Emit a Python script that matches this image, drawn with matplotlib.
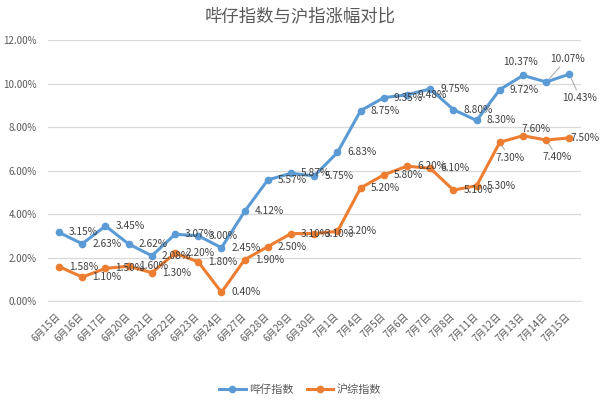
import matplotlib
import matplotlib.pyplot as plt
import matplotlib.ticker as mtick

matplotlib.use("Agg")
plt.rcParams["font.family"] = ["Noto Sans CJK SC", "DejaVu Sans"]

dates = ["6月15日", "6月16日", "6月17日", "6月20日", "6月21日", "6月22日", "6月23日",
         "6月24日", "6月27日", "6月28日", "6月29日", "6月30日", "7月1日", "7月4日",
         "7月5日", "7月6日", "7月7日", "7月8日", "7月11日", "7月12日", "7月13日",
         "7月14日", "7月15日"]
bizai = [3.15, 2.63, 3.45, 2.62, 2.08, 3.07, 3.00, 2.45, 4.12, 5.57, 5.87, 5.75,
         6.83, 8.75, 9.35, 9.48, 9.75, 8.80, 8.30, 9.72, 10.37, 10.07, 10.43]
huzong = [1.58, 1.10, 1.50, 1.60, 1.30, 2.20, 1.80, 0.40, 1.90, 2.50, 3.10, 3.10,
          3.20, 5.20, 5.80, 6.20, 6.10, 5.10, 5.30, 7.30, 7.60, 7.40, 7.50]

BLUE = "#5B9BD5"
ORANGE = "#ED7D31"
GRAY = "#595959"

# label offsets in points (dx, dy, leader line); anything not listed sits to the right
blue_moves = {20: (-1.5, 9.5, False), 21: (15, 16.5, True), 22: (7.5, -17, True)}
orange_moves = {19: (7, -11, True), 20: (9.5, 4.5, False), 21: (8, -12.5, True),
                22: (11.5, 0, False)}

fig = plt.figure(figsize=(6, 4.03), dpi=100)
ax = fig.add_axes([47.5 / 600, 1 - 301 / 403, 533.5 / 600, 261 / 403])

x = list(range(len(dates)))
ax.plot(x, bizai, color=BLUE, lw=2.2, marker="o", ms=4.5, label="哔仔指数", zorder=3)
ax.plot(x, huzong, color=ORANGE, lw=2.2, marker="o", ms=4.5, label="沪综指数", zorder=3)


def add_labels(values, moves):
    for i, v in enumerate(values):
        dx, dy, leader = moves.get(i, (7.2, 0, False))
        ha = "left" if i not in moves else "center"
        props = None
        if leader:
            props = dict(arrowstyle="-", color="#A6A6A6", lw=0.7, shrinkA=0, shrinkB=3)
        ax.annotate(f"{v:.2f}%", xy=(i, v), xytext=(dx, dy), textcoords="offset points",
                    ha=ha, va="center", fontsize=7.3, color="#404040",
                    arrowprops=props, zorder=4)


add_labels(bizai, blue_moves)
add_labels(huzong, orange_moves)

ax.set_xlim(-0.5, len(dates) - 0.5)
ax.set_ylim(0, 12)
ax.yaxis.set_major_locator(mtick.MultipleLocator(2))
ax.yaxis.set_major_formatter(mtick.FuncFormatter(lambda v, p: f"{v:.2f}%"))
ax.grid(axis="y", color="#D9D9D9", lw=0.9)
ax.set_axisbelow(True)
for s in ["top", "right", "left"]:
    ax.spines[s].set_visible(False)
ax.spines["bottom"].set_color("#D9D9D9")
ax.tick_params(axis="y", length=0, pad=8, labelsize=7, labelcolor=GRAY)
ax.tick_params(axis="x", length=0, pad=10, labelsize=7, labelcolor=GRAY)
ax.set_xticks(x)
ax.set_xticklabels(dates, rotation=45, ha="right", va="center", rotation_mode="anchor")

fig.text(0.5, 1 - 16 / 403, "哔仔指数与沪指涨幅对比", ha="center", va="center",
         fontsize=12.5, color=GRAY)
fig.legend(loc="center", bbox_to_anchor=(0.5, 1 - 390 / 403), ncol=2, frameon=False,
           fontsize=8, labelcolor=GRAY, handlelength=2.4, handletextpad=0.3,
           columnspacing=1.2)

fig.savefig("out.png", dpi=100)
